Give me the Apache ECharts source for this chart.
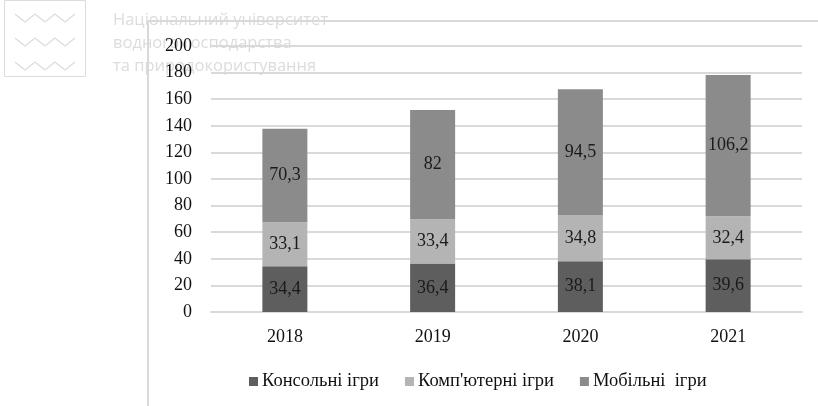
<!DOCTYPE html>
<html>
<head>
<meta charset="utf-8">
<title>Ігри</title>
<script src="https://cdn.jsdelivr.net/npm/echarts@6/dist/echarts.min.js"></script>
<style>
  html, body { margin: 0; padding: 0; background: #fff; }
  #main { width: 818px; height: 406px; }
</style>
</head>
<body>
<div id="main"></div>
<script>
// дані
var years = ['2018', '2019', '2020', '2021'];
var consoleGames = [34.4, 36.4, 38.1, 39.6];
var pcGames = [33.1, 33.4, 34.8, 32.4];
var mobileGames = [70.3, 82, 94.5, 106.2];
var seriesNames = ['Консольні ігри', 'Комп\'ютерні ігри', 'Мобільні  ігри'];
var colors = ['#5e5e5e', '#b4b4b4', '#8b8b8b'];

var serif = '"Liberation Serif", "DejaVu Serif", serif';
var wm = '#dcdcdc';
var wmFont = '16.5px "Open Sans", sans-serif';

var myChart = echarts.init(document.getElementById('main'));

function bar(name, data, color) {
    return {
        name: name,
        type: 'bar',
        stack: 'total',
        barWidth: 45,
        data: data,
        itemStyle: { color: color },
        label: {
            show: true,
            position: 'inside',
            color: '#1a1a1a',
            fontFamily: serif,
            fontSize: 18,
            formatter: function (p) { return String(p.value).replace('.', ','); }
        }
    };
}

// водяний знак (логотип)
function wave(y) {
    return {
        type: 'polyline',
        z: -1,
        shape: { points: [[15, y - 4], [25, y + 4], [35, y - 4], [45, y + 4], [55, y - 4], [65, y + 4], [75, y - 4]] },
        style: { stroke: wm, lineWidth: 1.3, fill: null }
    };
}

function wmText(y, txt) {
    return { type: 'text', z: -1, x: 113, y: y, style: { text: txt, fill: wm, font: wmFont, verticalAlign: 'middle' } };
}

var option = {
    animation: false,
    grid: { left: 211, right: 16, top: 46, bottom: 94 },
    legend: {
        bottom: 10,
        left: 244,
        itemWidth: 9,
        itemHeight: 9,
        itemGap: 26,
        icon: 'rect',
        textStyle: { fontFamily: serif, fontSize: 18.5, color: '#111', padding: [0, 0, 0, -1] },
        data: seriesNames
    },
    xAxis: {
        type: 'category',
        data: years,
        axisLine: { lineStyle: { color: '#d9d9d9', width: 2 } },
        axisTick: { show: false },
        axisLabel: { fontFamily: serif, fontSize: 18, color: '#111', margin: 16 }
    },
    yAxis: {
        type: 'value',
        min: 0,
        max: 200,
        interval: 20,
        axisLine: { show: false },
        axisTick: { show: false },
        axisLabel: { fontFamily: serif, fontSize: 18, color: '#111', margin: 19 },
        splitLine: { lineStyle: { color: '#d9d9d9', width: 2 } }
    },
    graphic: [
        { type: 'line', shape: { x1: 148, y1: 21, x2: 818, y2: 21 }, style: { stroke: '#d9d9d9', lineWidth: 2 } },
        { type: 'line', shape: { x1: 148, y1: 21, x2: 148, y2: 406 }, style: { stroke: '#d9d9d9', lineWidth: 2 } },
        { type: 'rect', z: -1, shape: { x: 4.5, y: 0.5, width: 81, height: 76 }, style: { stroke: wm, fill: null, lineWidth: 1 } },
        wave(18), wave(42), wave(66),
        wmText(20, 'Національний університет'),
        wmText(43, 'водного господарства'),
        wmText(66, 'та природокористування')
    ],
    series: [
        bar(seriesNames[0], consoleGames, colors[0]),
        bar(seriesNames[1], pcGames, colors[1]),
        bar(seriesNames[2], mobileGames, colors[2])
    ]
};

myChart.setOption(option);
</script>
</body>
</html>
